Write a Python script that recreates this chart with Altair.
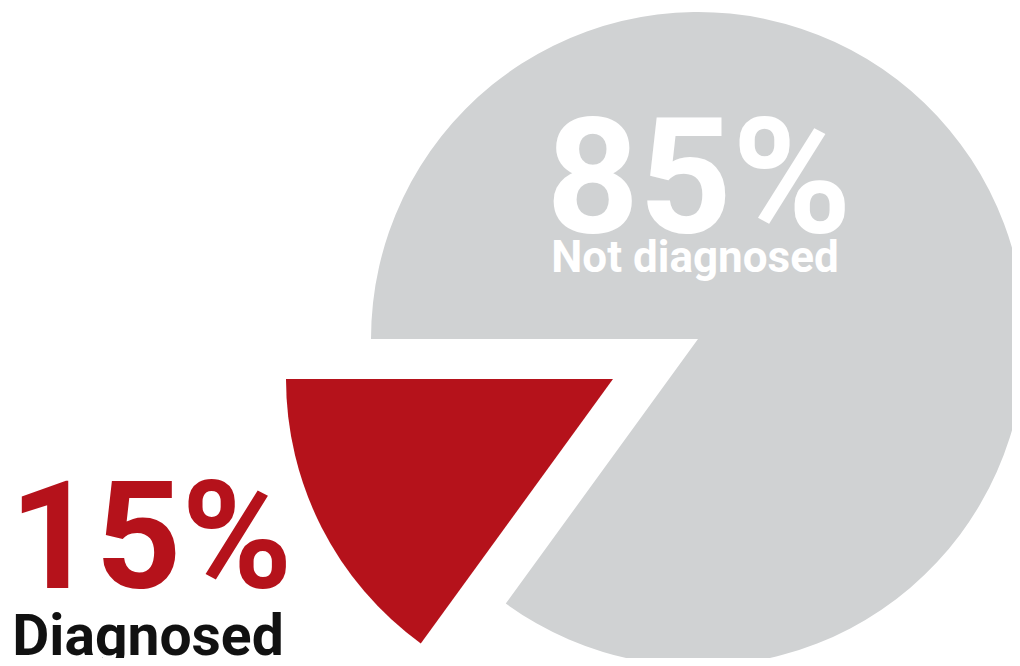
import math
import altair as alt
import pandas as pd

categories = ["Not diagnosed", "Diagnosed"]
values = [85, 15]
colors = ["#D0D2D3", "#B5121B"]
order = [0, 1]

df = pd.DataFrame({"category": categories, "value": values, "color": colors, "order": order})

W, H = 1004, 650
R = 327
theta_scale = alt.Scale(domain=[0, 100], range=[-math.pi / 2, 3 * math.pi / 2])

base = (
    alt.Chart(df)
    .transform_window(cum="sum(value)", sort=[alt.SortField("order")], frame=[None, 0])
    .transform_calculate(start="datum.cum - datum.value", pct="datum.value + '%'")
)


def slice_layer(cat, cx, cy):
    return (
        base.transform_filter(alt.datum.category == cat)
        .mark_arc(radius=R, strokeWidth=0)
        .encode(
            theta=alt.Theta("start:Q", scale=theta_scale),
            theta2="cum:Q",
            color=alt.Color("color:N", scale=None, legend=None),
            x=alt.value(cx),
            y=alt.value(cy),
        )
    )


def text_layer(cat, field, cx, cy, size, color):
    return (
        base.transform_filter(alt.datum.category == cat)
        .mark_text(
            font="Roboto",
            fontWeight="bold",
            fontSize=size,
            color=color,
            align="center",
            baseline="alphabetic",
        )
        .encode(text=f"{field}:N", x=alt.value(cx), y=alt.value(cy))
    )


grey = slice_layer("Not diagnosed", 690, 331)
red = slice_layer("Diagnosed", 605, 371)

t85 = text_layer("Not diagnosed", "pct", 691, 224, 162, "#FFFFFF")
t85b = text_layer("Not diagnosed", "category", 687, 264, 44, "#FFFFFF")
t15 = text_layer("Diagnosed", "pct", 143, 580, 150, "#B5121B")
t15b = text_layer("Diagnosed", "category", 140, 647, 57, "#111111")

chart = (
    alt.layer(grey, red, t85, t85b, t15, t15b)
    .properties(width=W, height=H, padding=0, autosize="none", background="#FFFFFF")
    .configure_view(stroke=None)
)

chart.save("out.html", embed_options={"renderer": "svg", "actions": False})
